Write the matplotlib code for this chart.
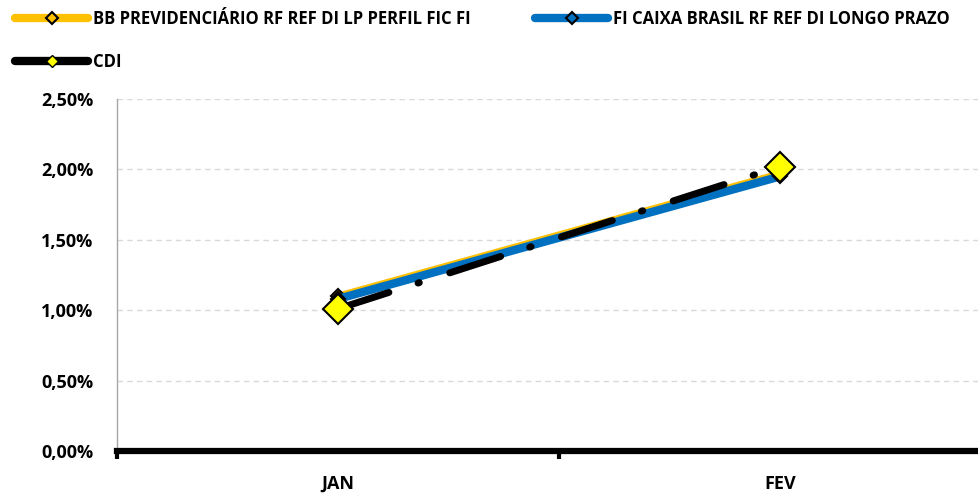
import numpy as np
import matplotlib.pyplot as plt
from matplotlib.lines import Line2D
from matplotlib.ticker import FuncFormatter

plt.rcParams['font.family'] = ['Open Sans', 'DejaVu Sans']
plt.rcParams['font.weight'] = 'bold'

# data (monthly accumulated return, %)
months = ['JAN', 'FEV']
bb_prev = [1.10, 1.97]
caixa = [1.08, 1.95]
cdi = [1.01, 2.02]

names = ['BB PREVIDENCIÁRIO RF REF DI LP PERFIL FIC FI',
         'FI CAIXA BRASIL RF REF DI LONGO PRAZO',
         'CDI']

fig = plt.figure(figsize=(9.79, 4.94), dpi=100)
# category axis runs a bit past the right edge, like the source
ax = fig.add_axes([117 / 979, 43 / 494, 884 / 979, 352 / 494])

x = np.arange(len(months)) + 0.5

ax.plot(x, bb_prev, color='#FFC000', lw=5, solid_capstyle='round',
        marker='D', ms=7, mfc='#FFC000', mec='black', mew=1.5, zorder=3)
ax.plot(x, caixa, color='#0070C0', lw=6, solid_capstyle='round',
        marker='D', ms=7, mfc='#0070C0', mec='black', mew=1.5, zorder=4)
ax.plot(x, cdi, color='black', lw=5, dashes=(7.7, 4.4, 0.2, 4.6),
        dash_capstyle='round', marker='D', ms=15, mfc='#FFFF00',
        mec='black', mew=1.5, zorder=5)

ax.set_xlim(0, 2)
ax.set_ylim(0, 2.5)
ax.set_yticks(np.arange(0, 2.51, 0.5))
ax.yaxis.set_major_formatter(FuncFormatter(lambda v, p: f'{v:.2f}%'.replace('.', ',')))
ax.set_xticks([0, 1, 2])
ax.set_xticklabels([])
ax.set_xticks(x, minor=True)
ax.set_xticklabels(months, minor=True)
ax.tick_params(axis='x', which='major', direction='out', length=6, width=3, color='black')
ax.tick_params(axis='x', which='minor', length=0, pad=17, labelsize=13)
ax.tick_params(axis='y', length=0, pad=17, labelsize=13)

ax.grid(axis='y', color='#D9D9D9', ls=(0, (4, 3)), lw=1)
ax.set_axisbelow(True)
for s in ['top', 'right']:
    ax.spines[s].set_visible(False)
ax.spines['left'].set_color('#A6A6A6')
ax.spines['left'].set_linewidth(1)
ax.spines['bottom'].set_color('black')
ax.spines['bottom'].set_linewidth(4.5)
ax.spines['bottom'].set_zorder(6)

# legend handles, row-major order: BB, CAIXA / CDI
h_bb = Line2D([], [], color='#FFC000', lw=6, solid_capstyle='round',
              marker='D', ms=6, mfc='#FFC000', mec='black', mew=1.5)
h_cx = Line2D([], [], color='#0070C0', lw=6, solid_capstyle='round',
              marker='D', ms=6, mfc='#0070C0', mec='black', mew=1.5)
h_cdi = Line2D([], [], color='black', lw=6, solid_capstyle='round',
               marker='D', ms=6, mfc='#FFFF00', mec='black', mew=1)
fig.legend([h_bb, h_cdi, h_cx], [names[0], names[2], names[1]],
           loc='upper left', bbox_to_anchor=(15 / 979, 1 - 10 / 494), ncol=2,
           frameon=False, fontsize=12, handlelength=4.4, handletextpad=0.25,
           columnspacing=3.9, labelspacing=1.5, borderpad=0, borderaxespad=0)

fig.savefig('out.png', dpi=100)
